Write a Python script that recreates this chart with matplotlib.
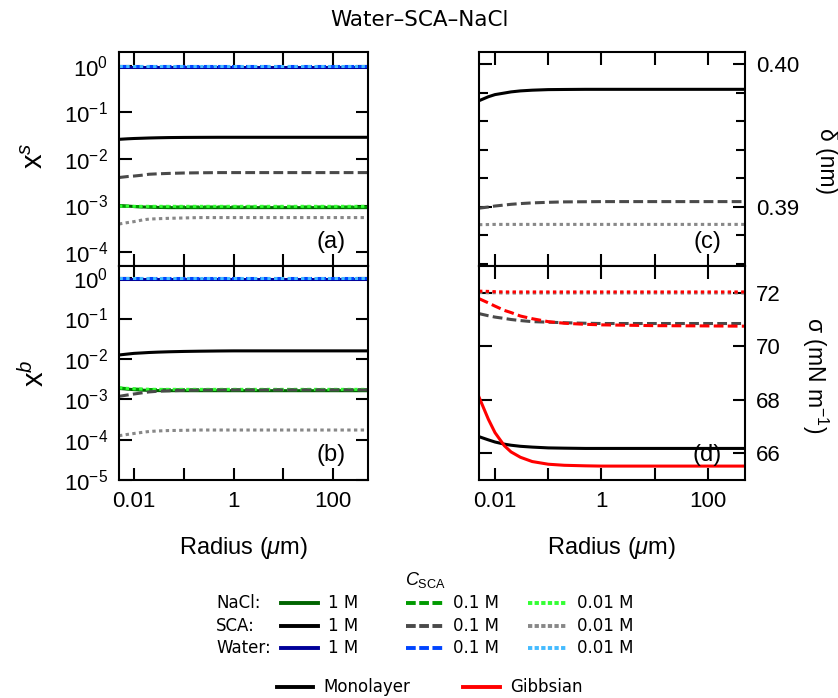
import matplotlib
matplotlib.use('Agg')
import matplotlib.pyplot as plt
from matplotlib.lines import Line2D
from matplotlib.ticker import (FixedLocator, NullLocator, LogFormatterMathtext,
                               MultipleLocator, FormatStrFormatter, FixedFormatter)

plt.rcParams['font.family'] = ['Liberation Sans', 'DejaVu Sans']
plt.rcParams['mathtext.fontset'] = 'custom'
plt.rcParams['mathtext.rm'] = 'Liberation Sans'
plt.rcParams['mathtext.it'] = 'Liberation Sans:italic'
plt.rcParams['mathtext.bf'] = 'Liberation Sans:bold'

# ---------------- data ----------------
radius = [0.005, 0.0075, 0.01, 0.015, 0.02, 0.03, 0.05, 0.1, 0.2, 0.5, 1, 10, 100, 500]  # um

# (a) surface mole fractions x^s
xs_nacl_1 = [0.00100, 0.00097, 0.00095, 0.00093, 0.00092, 0.00091, 0.00090, 0.00090, 0.00090, 0.00090, 0.00090, 0.00090, 0.00090, 0.00090]
xs_nacl_01 = [0.00097, 0.00096, 0.00095, 0.00094, 0.00094, 0.00093, 0.00093, 0.00093, 0.00093, 0.00093, 0.00093, 0.00093, 0.00093, 0.00093]
xs_nacl_001 = [0.00097, 0.00097, 0.00096, 0.00096, 0.00096, 0.00096, 0.00096, 0.00096, 0.00096, 0.00096, 0.00096, 0.00096, 0.00096, 0.00096]
xs_sca_1 = [0.0265, 0.0272, 0.0276, 0.0280, 0.0283, 0.0286, 0.0289, 0.0291, 0.0292, 0.0293, 0.0293, 0.0293, 0.0293, 0.0293]
xs_sca_01 = [0.0040, 0.0042, 0.0043, 0.0045, 0.0047, 0.0048, 0.0049, 0.0050, 0.00505, 0.0051, 0.0051, 0.0051, 0.0051, 0.0051]
xs_sca_001 = [0.00040, 0.00043, 0.00045, 0.00049, 0.00051, 0.00052, 0.00053, 0.00054, 0.00055, 0.00055, 0.00055, 0.00055, 0.00055, 0.00055]
xs_water_1 = [0.97] * 14
xs_water_01 = [0.994] * 14
xs_water_001 = [0.999] * 14

# (b) bulk mole fractions x^b
xb_nacl_1 = [0.00185, 0.00178, 0.00173, 0.00168, 0.00166, 0.00164, 0.00163, 0.00163, 0.00163, 0.00163, 0.00163, 0.00163, 0.00163, 0.00163]
xb_nacl_01 = [0.00190, 0.00183, 0.00179, 0.00176, 0.00174, 0.00173, 0.00172, 0.00172, 0.00172, 0.00172, 0.00172, 0.00172, 0.00172, 0.00172]
xb_nacl_001 = [0.00192, 0.00186, 0.00182, 0.00179, 0.00177, 0.00176, 0.00176, 0.00176, 0.00176, 0.00176, 0.00176, 0.00176, 0.00176, 0.00176]
xb_sca_1 = [0.0125, 0.0132, 0.0137, 0.0141, 0.0144, 0.0147, 0.0150, 0.0153, 0.0155, 0.0157, 0.0158, 0.0158, 0.0158, 0.0158]
xb_sca_01 = [0.00118, 0.00128, 0.00135, 0.00145, 0.00152, 0.00158, 0.00162, 0.00166, 0.00168, 0.00170, 0.00170, 0.00170, 0.00170, 0.00170]
xb_sca_001 = [0.000125, 0.000135, 0.000142, 0.000152, 0.000159, 0.000164, 0.000168, 0.000170, 0.000173, 0.000173, 0.000173, 0.000173, 0.000173, 0.000173]
xb_water_1 = [0.975] * 14
xb_water_01 = [0.996] * 14
xb_water_001 = [0.9995] * 14

# (c) monolayer thickness delta (nm)
delta_1 = [0.39744, 0.39772, 0.39787, 0.39798, 0.39806, 0.39813, 0.39818, 0.39822, 0.39823, 0.39824, 0.39824, 0.39824, 0.39824, 0.39824]
delta_01 = [0.38990, 0.38998, 0.39005, 0.39012, 0.39017, 0.39022, 0.39027, 0.39031, 0.39034, 0.39035, 0.39036, 0.39036, 0.39036, 0.39036]
delta_001 = [0.38874, 0.38875, 0.38876, 0.38876, 0.38876, 0.38876, 0.38876, 0.38876, 0.38876, 0.38876, 0.38876, 0.38876, 0.38876, 0.38876]

# (d) surface tension sigma (mN/m)
sig_mono_1 = [66.62, 66.50, 66.42, 66.34, 66.30, 66.26, 66.23, 66.20, 66.19, 66.18, 66.18, 66.18, 66.18, 66.18]
sig_mono_01 = [71.22, 71.14, 71.09, 71.04, 71.00, 70.96, 70.92, 70.90, 70.88, 70.86, 70.85, 70.85, 70.85, 70.85]
sig_mono_001 = [72.01, 72.00, 72.00, 71.99, 71.99, 71.99, 71.99, 71.99, 71.99, 71.99, 71.99, 71.99, 71.99, 71.99]
sig_gibbs_1 = [68.10, 67.27, 66.77, 66.28, 66.05, 65.85, 65.69, 65.59, 65.55, 65.53, 65.52, 65.52, 65.52, 65.52]
sig_gibbs_01 = [71.78, 71.62, 71.50, 71.34, 71.26, 71.13, 71.03, 70.92, 70.86, 70.82, 70.80, 70.77, 70.76, 70.75]
sig_gibbs_001 = [72.06, 72.05, 72.04, 72.03, 72.03, 72.03, 72.03, 72.03, 72.03, 72.03, 72.03, 72.03, 72.03, 72.03]

conc_labels = ['1 M', '0.1 M', '0.01 M']
species = ['NaCl:', 'SCA:', 'Water:']
x_ticks = [0.01, 0.1, 1, 10, 100]
x_ticklabels = ['0.01', '', '1', '', '100']

# ---------------- styles ----------------
col_nacl = ['#006400', '#009a00', '#33ff33']
col_sca = ['#000000', '#4a4a4a', '#888888']
col_water = ['#000099', '#0044ff', '#44bbff']
col_gibbs = '#ff0000'
ls = ['-', (0, (3.2, 1.4)), (0, (1.1, 1.1))]
ls_leg = ['-', (0, (2.5, 0.9)), (0, (1.1, 0.6))]
LW = 2.2

W, H = 838, 698
fig = plt.figure(figsize=(W / 100, H / 100), dpi=100)


def fx(x):
    return x / W


def fy(y):
    return 1 - y / H


axL_l, axL_w = fx(119), 249 / W
axR_l, axR_w = fx(479), 266 / W
top_b, bot_b, ah = fy(266), fy(480), 214 / H

ax_a = fig.add_axes([axL_l, top_b, axL_w, ah])
ax_b = fig.add_axes([axL_l, bot_b, axL_w, ah])
ax_c = fig.add_axes([axR_l, top_b, axR_w, ah])
ax_d = fig.add_axes([axR_l, bot_b, axR_w, ah])

# (a)
for y, c, s in zip([xs_nacl_1, xs_nacl_01, xs_nacl_001], col_nacl, ls):
    ax_a.plot(radius, y, color=c, ls=s, lw=LW)
for y, c, s in zip([xs_sca_1, xs_sca_01, xs_sca_001], col_sca, ls):
    ax_a.plot(radius, y, color=c, ls=s, lw=LW)
for y, c, s in zip([xs_water_1, xs_water_01, xs_water_001], col_water, ls):
    ax_a.plot(radius, y, color=c, ls=s, lw=LW)

# (b)
for y, c, s in zip([xb_nacl_1, xb_nacl_01, xb_nacl_001], col_nacl, ls):
    ax_b.plot(radius, y, color=c, ls=s, lw=LW)
for y, c, s in zip([xb_sca_1, xb_sca_01, xb_sca_001], col_sca, ls):
    ax_b.plot(radius, y, color=c, ls=s, lw=LW)
for y, c, s in zip([xb_water_1, xb_water_01, xb_water_001], col_water, ls):
    ax_b.plot(radius, y, color=c, ls=s, lw=LW)

# (c)
for y, c, s in zip([delta_1, delta_01, delta_001], col_sca, ls):
    ax_c.plot(radius, y, color=c, ls=s, lw=LW)

# (d)
for y, c, s in zip([sig_mono_1, sig_mono_01, sig_mono_001], col_sca, ls):
    ax_d.plot(radius, y, color=c, ls=s, lw=LW)
for y, s in zip([sig_gibbs_1, sig_gibbs_01, sig_gibbs_001], ls):
    ax_d.plot(radius, y, color=col_gibbs, ls=s, lw=LW)

for ax in (ax_a, ax_b, ax_c, ax_d):
    ax.set_xscale('log')
    ax.set_xlim(0.005, 500)
    ax.xaxis.set_major_locator(FixedLocator(x_ticks))
    ax.xaxis.set_major_formatter(FixedFormatter(x_ticklabels))
    ax.xaxis.set_minor_locator(NullLocator())
    ax.tick_params(which='both', direction='in', top=True, right=True,
                   width=1.5, labelsize=16, pad=8)
    ax.tick_params(which='major', length=9)
    ax.tick_params(which='minor', length=6.5)
    for sp in ax.spines.values():
        sp.set_linewidth(1.5)

for ax in (ax_a, ax_c):
    ax.tick_params(labelbottom=False)

for ax, lo, ticks in ((ax_a, 5e-5, [1e-4, 1e-3, 1e-2, 1e-1, 1]),
                      (ax_b, 1e-5, [1e-5, 1e-4, 1e-3, 1e-2, 1e-1, 1])):
    ax.set_yscale('log')
    ax.set_ylim(lo, 2.0)
    ax.yaxis.set_major_locator(FixedLocator(ticks))
    ax.yaxis.set_major_formatter(LogFormatterMathtext())
    ax.yaxis.set_minor_locator(NullLocator())

ax_c.set_ylim(0.38584, 0.40086)
ax_c.yaxis.set_major_locator(MultipleLocator(0.01))
ax_c.yaxis.set_major_formatter(FormatStrFormatter('%.2f'))
ax_c.yaxis.set_minor_locator(MultipleLocator(0.002))
ax_d.set_ylim(65.0, 73.0)
ax_d.yaxis.set_major_locator(FixedLocator([66, 68, 70, 72]))
ax_d.yaxis.set_major_formatter(FormatStrFormatter('%d'))
ax_d.yaxis.set_minor_locator(NullLocator())
for ax in (ax_c, ax_d):
    ax.tick_params(labelleft=False, labelright=True)

# panel letters
for ax, t, yy in ((ax_a, '(a)', 0.112), (ax_b, '(b)', 0.117)):
    ax.text(0.851, yy, t, transform=ax.transAxes, ha='center', va='center', fontsize=17)
for ax, t, yy in ((ax_c, '(c)', 0.112), (ax_d, '(d)', 0.117)):
    ax.text(0.857, yy, t, transform=ax.transAxes, ha='center', va='center', fontsize=17)

# axis labels
fig.text(fx(35), fy(156), r'x$^s$', rotation=90, ha='center', va='center', fontsize=21)
fig.text(fx(35), fy(373), r'x$^b$', rotation=90, ha='center', va='center', fontsize=21)
fig.text(fx(826), fy(161), 'δ (nm)', rotation=270, ha='center', va='center', fontsize=16.5)
fig.text(fx(815), fy(375), r'σ (mN m$^{-1}$)', rotation=270, ha='center', va='center', fontsize=16.5)
fig.text(fx(244), fy(548), r'Radius ($\mu$m)', ha='center', va='center', fontsize=17)
fig.text(fx(612), fy(548), r'Radius ($\mu$m)', ha='center', va='center', fontsize=17)

# title
fig.text(fx(419), fy(20), 'Water–SCA–NaCl', ha='center', va='center', fontsize=15.5,
         family='DejaVu Sans')

# legend (manual)
LF = dict(fontsize=12, family='DejaVu Sans', va='center')
fig.text(fx(425), fy(580), r'$C_{\mathrm{SCA}}$', ha='center', va='center', fontsize=13)
rows_y = [603, 626, 648]
seg_x = [(281, 318), (406, 443), (528, 567)]
txt_x = [328, 453, 577]
for cols, lab, yy in zip([col_nacl, col_sca, col_water], species, rows_y):
    fig.text(fx(216), fy(yy), lab, ha='left', **LF)
    for j in range(3):
        x1, x2 = seg_x[j]
        fig.add_artist(Line2D([fx(x1), fx(x2)], [fy(yy), fy(yy)], transform=fig.transFigure,
                              color=cols[j], ls=ls_leg[j], lw=2.8))
        fig.text(fx(txt_x[j]), fy(yy), conc_labels[j], ha='left', **LF)

bot_y = 687
fig.add_artist(Line2D([fx(277), fx(313)], [fy(bot_y), fy(bot_y)], transform=fig.transFigure,
                      color='black', lw=2.8))
fig.text(fx(323), fy(bot_y), 'Monolayer', ha='left', **LF)
fig.add_artist(Line2D([fx(463), fx(500)], [fy(bot_y), fy(bot_y)], transform=fig.transFigure,
                      color=col_gibbs, lw=2.8))
fig.text(fx(510), fy(bot_y), 'Gibbsian', ha='left', **LF)

fig.savefig('out.png', dpi=100)
